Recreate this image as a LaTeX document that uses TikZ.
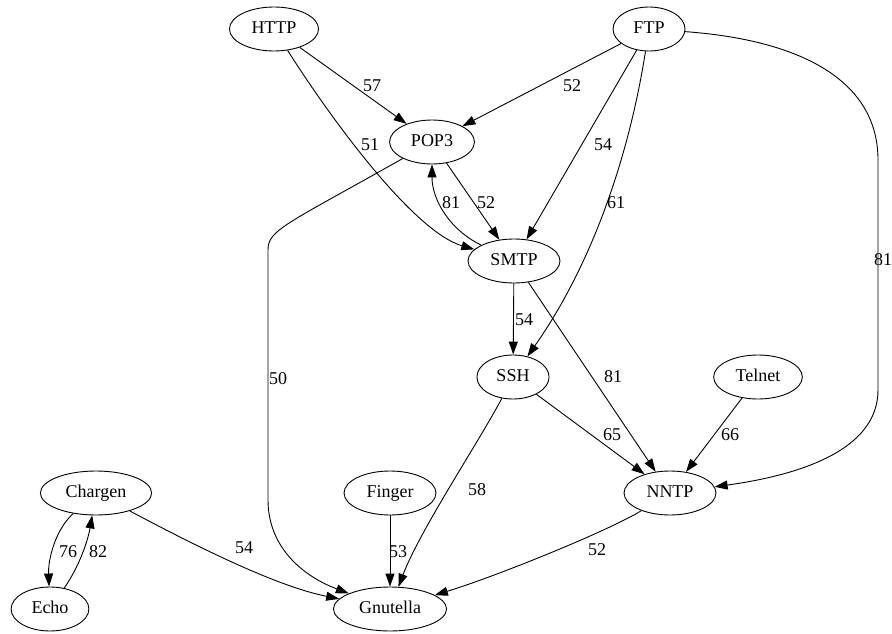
\documentclass[tikz,border=0pt]{standalone}
\usepackage{fontspec}
\setmainfont{Liberation Serif}
\usetikzlibrary{arrows.meta,shapes.geometric}

\begin{document}
\begin{tikzpicture}[x=1pt,y=-1pt]
        \tikzset{every node/.style={font=\fontsize{18}{20}\selectfont},
            proto/.style={draw,ellipse,line width=0.9pt,minimum width=72pt,minimum height=44pt,
                inner xsep=9pt,inner ysep=2pt,text height=12pt,text depth=3pt},
            link/.style={draw,line width=0.9pt,-{Triangle[length=13pt,width=9pt]}},
            wt/.style={inner sep=0pt}}
        \useasboundingbox (0,0) rectangle (892,634);
        % protocols
        \node[proto] (HTTP) at (274,29) {HTTP};
        \node[proto] (FTP) at (649,29) {FTP};
        \node[proto] (POP3) at (432,142) {POP3};
        \node[proto] (SMTP) at (514,261) {SMTP};
        \node[proto] (SSH) at (513,377) {SSH};
        \node[proto] (Telnet) at (758,377) {Telnet};
        \node[proto] (NNTP) at (670,493) {NNTP};
        \node[proto] (Chargen) at (96,493) {Chargen};
        \node[proto] (Finger) at (390,493) {Finger};
        \node[proto] (Echo) at (50,609) {Echo};
        \node[proto] (Gnutella) at (390,609) {Gnutella};
        % links
        \draw[link] (HTTP) -- (POP3) node[wt] at (372,86) {57};
        \draw[link] (HTTP) .. controls (335,125) and (415,232) .. (SMTP) node[wt] at (370,145) {51};
        \draw[link] (FTP) -- (POP3) node[wt] at (572,86) {52};
        \draw[link] (FTP) -- (SMTP) node[wt] at (603,145) {54};
        \draw[link] (FTP) .. controls (630,150) and (595,260) .. (SSH) node[wt] at (616,203) {61};
        \draw[link] (FTP) .. controls (800,40) and (878,80) .. (878,160) -- (878,390)
            .. controls (878,450) and (800,475) .. (NNTP) node[wt] at (883,260) {81};
        \draw[link] (POP3) -- (SMTP) node[wt] at (486,203) {52};
        \draw[link] (SMTP) .. controls (450,230) and (432,200) .. (POP3) node[wt] at (451,203) {81};
        \draw[link] (POP3) .. controls (285,225) and (268,230) .. (268,250) -- (268,500)
            .. controls (268,545) and (300,575) .. (Gnutella) node[wt] at (278,379) {50};
        \draw[link] (SMTP) -- (SSH) node[wt] at (524,320) {54};
        \draw[link] (SMTP) -- (NNTP) node[wt] at (613,377) {81};
        \draw[link] (SSH) -- (NNTP) node[wt] at (612,435) {65};
        \draw[link] (SSH) .. controls (480,440) and (420,530) .. (Gnutella) node[wt] at (477,490) {58};
        \draw[link] (Telnet) -- (NNTP) node[wt] at (730,435) {66};
        \draw[link] (NNTP) .. controls (610,530) and (500,575) .. (Gnutella) node[wt] at (597,550) {52};
        \draw[link] (Chargen) .. controls (55,530) and (48,560) .. (Echo) node[wt] at (68,552) {76};
        \draw[link] (Echo) .. controls (80,565) and (88,540) .. (Chargen) node[wt] at (98,552) {82};
        \draw[link] (Chargen) .. controls (192,544) and (275,586) .. (Gnutella) node[wt] at (244,548) {54};
        \draw[link] (Finger) -- (Gnutella) node[wt] at (398,552) {53};
\end{tikzpicture}
\end{document}
